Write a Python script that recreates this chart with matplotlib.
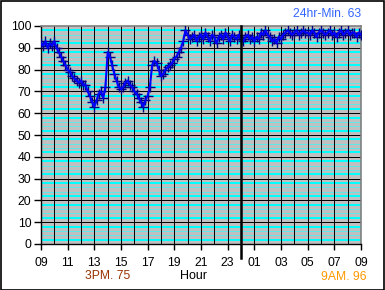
import matplotlib
matplotlib.use("Agg")
import matplotlib.pyplot as plt
from matplotlib.patches import Rectangle
import numpy as np

# 10-minute readings from 09:00 to 09:00 next day
temps = [
    92, 91, 93, 90, 92, 91,   # 09
    93, 90, 88, 86, 84, 82,   # 10
    80, 79, 77, 76, 75, 74,   # 11
    75, 73, 73, 70, 68, 65,   # 12
    63, 66, 69, 70, 67, 72,   # 13
    88, 86, 82, 78, 75, 72,   # 14
    71, 72, 74, 75, 73, 72,   # 15
    70, 69, 67, 65, 63, 66,   # 16
    68, 72, 82, 84, 83, 80,   # 17
    77, 78, 80, 81, 82, 83,   # 18
    85, 86, 88, 90, 93, 98,   # 19
    96, 94, 95, 96, 93, 95,   # 20
    96, 94, 97, 95, 93, 96,   # 21
    95, 92, 95, 96, 94, 97,   # 22
    95, 93, 96, 95, 94, 96,   # 23
    94, 93, 95, 96, 94, 95,   # 00
    93, 95, 94, 97, 96, 98,   # 01
    96, 95, 93, 94, 92, 95,   # 02
    94, 96, 97, 98, 97, 96,   # 03
    97, 98, 96, 97, 98, 97,   # 04
    97, 96, 98, 97, 95, 97,   # 05
    98, 97, 96, 97, 98, 96,   # 06
    97, 95, 97, 98, 96, 97,   # 07
    98, 96, 97, 97, 95, 97,   # 08
    96,                       # 09
]
hours = 9 + np.arange(len(temps)) / 6.0

tick_hours = list(range(9, 34, 2))
tick_labels = ["09", "11", "13", "15", "17", "19", "21", "23",
               "01", "03", "05", "07", "09"]
y_ticks = list(range(0, 101, 10))

W, H = 385, 290
fig = plt.figure(figsize=(W / 100, H / 100), dpi=100)
fig.patch.set_facecolor("white")
ax = fig.add_axes([41 / W, 1 - 244 / H, 320 / W, 218 / H])
ax.set_facecolor("#c0c0c0")
ax.set_xlim(9, 33)
ax.set_ylim(0, 100)

# minor cyan lines every 2 units
for v in range(0, 101, 2):
    if v % 10 == 0:
        continue
    if v % 10 in (2, 8):
        ax.axhline(v, color="#00ffff", lw=1.44, zorder=1, antialiased=False)
    else:
        ax.axhline(v, color="#60e8e8", lw=0.72, zorder=1, antialiased=False)
# black grid
for v in range(10, 100, 10):
    ax.axhline(v, color="black", lw=0.72, zorder=1.5, antialiased=False)
for hh in range(10, 33):
    ax.axvline(hh, color="black", lw=0.72, zorder=1.5, antialiased=False)
# midnight line
ax.axvline(24, ymin=-14 / 218, ymax=1.0, color="black", lw=1.8,
           zorder=4, clip_on=False)

ax.plot(hours, temps, ls="none", marker="+", ms=7,
        mec="#000080", mew=1.0, zorder=3)
ax.plot(hours, temps, color="#0000ff", lw=1.5, zorder=3.5)

ax.set_xticks(tick_hours)
ax.set_xticklabels(tick_labels)
ax.set_yticks(y_ticks)
ax.tick_params(axis="x", direction="out", length=4, width=1, pad=5,
               labelsize=8.7, colors="black")
ax.tick_params(axis="y", direction="out", length=5, width=1, pad=2,
               labelsize=8.7, colors="black")
for lab in ax.get_xticklabels() + ax.get_yticklabels():
    lab.set_fontfamily("Liberation Sans")

for s in ["top", "right"]:
    ax.spines[s].set_color("#808080")
    ax.spines[s].set_linewidth(1.2)
for s in ["left", "bottom"]:
    ax.spines[s].set_color("black")
    ax.spines[s].set_linewidth(1.0)

fig.text(361 / W, 1 - 14 / H, "24hr-Min. 63", color="#3366ff",
         fontsize=8.7, family="Liberation Sans", ha="right", va="center")
fig.text(108 / W, 1 - 276 / H, "3PM. 75", color="#993300",
         fontsize=8.7, family="Liberation Sans", ha="center", va="center")
fig.text(194 / W, 1 - 276 / H, "Hour", color="black",
         fontsize=9, family="Liberation Sans", ha="center", va="center")
fig.text(344 / W, 1 - 277 / H, "9AM. 96", color="#ff9900",
         fontsize=8.7, family="Liberation Sans", ha="center", va="center")

fig.patches.append(Rectangle((0.5 / W, 0.5 / H), (W - 1.5) / W, (H - 1.5) / H,
                             transform=fig.transFigure, fill=False,
                             edgecolor="black", lw=1.2))

fig.savefig("out.png", dpi=100)
